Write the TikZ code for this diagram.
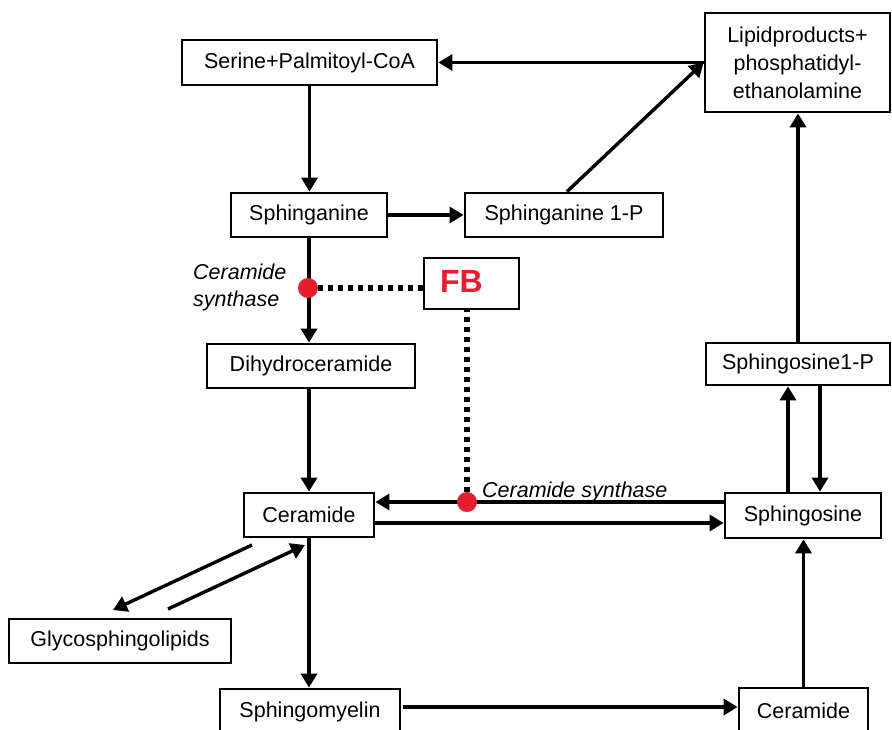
\documentclass[tikz,border=0pt]{standalone}
\usepackage{fontspec}
\setmainfont{Liberation Sans}
\usetikzlibrary{arrows.meta,calc}
\definecolor{fbred}{RGB}{230,30,45}
\begin{document}
\begin{tikzpicture}[x=1pt,y=-1pt,
  box/.style={draw, line width=2.8pt, inner sep=0pt, font=\fontsize{21.5}{28}\selectfont, anchor=center},
  arr/.style={line width=3.4pt, -{Triangle[length=14pt,width=16pt]}},
  dots/.style={line width=6pt, dash pattern=on 5pt off 5pt},
  enz/.style={circle, fill=fbred, inner sep=0pt, minimum size=20pt},
  lab/.style={font=\fontsize{21.5}{27}\selectfont\itshape, inner sep=0pt}]
\useasboundingbox (0,0) rectangle (892,729);
\clip (0,0) rectangle (892,729);

% boxes
\node[box, minimum width=255pt, minimum height=45pt] (serine) at (309.5,62.5) {Serine+Palmitoyl-CoA};
\node[box, minimum width=185pt, minimum height=99pt, align=center] (lipid) at (797.5,62.5) {Lipidproducts+\\phosphatidyl-\\ethanolamine};
\node[box, minimum width=156pt, minimum height=44pt] (sphinganine) at (309,215) {Sphinganine};
\node[box, minimum width=198pt, minimum height=44pt] (s1p) at (564,215) {Sphinganine 1-P};
\node[box, minimum width=95pt, minimum height=51pt] (fb) at (471.5,283.5) {};
\node[font=\bfseries\fontsize{32}{32}\selectfont, text=fbred, inner sep=0pt] (fbtext) at (461.5,281.5) {FB};
\node[box, minimum width=208pt, minimum height=44pt] (dihydro) at (311,366) {Dihydroceramide};
\node[box, minimum width=130pt, minimum height=44pt] (cer1) at (309,515) {Ceramide};
\node[box, minimum width=156pt, minimum height=45pt] (sphingosine) at (803,515.5) {Sphingosine};
\node[box, minimum width=184pt, minimum height=42pt] (so1p) at (798,364) {Sphingosine1-P};
\node[box, minimum width=222pt, minimum height=44pt] (glyco) at (120,641) {Glycosphingolipids};
\node[box, minimum width=180pt, minimum height=46pt] (sm) at (310,712) {Sphingomyelin};
\node[box, minimum width=129pt, minimum height=46pt] (cer2) at (803.5,711) {Ceramide};

% enzyme points
\coordinate (e1) at (308,288);
\coordinate (e2) at (467,502);

% labels
\node[lab, align=left, anchor=west] (cslab1) at (193,287) {Ceramide\\synthase};
\node[lab, anchor=base west] (cslab2) at (482,497) {Ceramide synthase};

% dotted inhibition lines
\draw[dots] (e1) -- (e1 -| fb.west);
\draw[dots] (e2) -- (e2 |- fb.south);

% main pathway arrows
\draw[arr] (serine.south) -- (serine.south |- sphinganine.north);
\draw[arr] (sphinganine.east) -- (s1p.west);
\coordinate (d1) at ($(s1p.north)+(3,0)$);
\draw[arr] (d1) -- (lipid.west);
\draw[arr] (lipid.west) -- (serine.east);
\draw[arr] (so1p.north) -- (so1p.north |- lipid.south);
\draw[arr] (sphinganine.south) -- (sphinganine.south |- dihydro.north);
\draw[arr] (cer1.north |- dihydro.south) -- (cer1.north);

% ceramide <-> sphingosine
\coordinate (c2) at (cer1.east |- e2);
\draw[arr] (c2 -| sphingosine.west) -- (c2);
\coordinate (c1) at ($(cer1.east)+(0,8)$);
\draw[arr] (c1) -- (c1 -| sphingosine.west);

% sphingosine <-> sphingosine1-P
\coordinate (u1) at ($(sphingosine.north)+(-15,0)$);
\draw[arr] (u1) -- (u1 |- so1p.south);
\coordinate (u2) at ($(sphingosine.north)+(17,0)$);
\draw[arr] (u2 |- so1p.south) -- (u2);
\draw[arr] (cer2.north) -- (cer2.north |- sphingosine.south);

% sphingomyelin
\draw[arr] (cer1.south) -- (cer1.south |- sm.north);
\coordinate (m1) at ($(sm.east)+(2,-5)$);
\draw[arr] (m1) -- (m1 -| cer2.west);

% glycosphingolipids
\coordinate (g1s) at (252,545);
\coordinate (g1e) at (113,610);
\coordinate (g2s) at (168,609);
\coordinate (g2e) at (305,545);
\draw[arr] (g1s) -- (g1e);
\draw[arr] (g2s) -- (g2e);

% red dots
\node[enz] (dot1) at (e1) {};
\node[enz] (dot2) at (e2) {};
\end{tikzpicture}
\end{document}
